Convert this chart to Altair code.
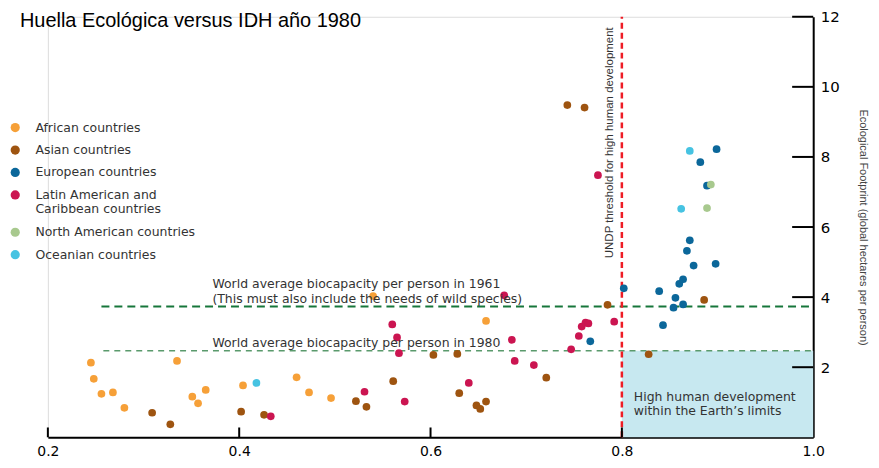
import altair as alt
import pandas as pd

regions = ["African countries", "Asian countries", "European countries",
           "Latin American and Caribbean countries", "North American countries",
           "Oceanian countries"]
colors = ["#F6A038", "#9E5410", "#0B679A", "#CB1551", "#A8C98E", "#46C3E2"]

african_hdi = [0.245, 0.248, 0.256, 0.268, 0.280, 0.335, 0.351, 0.357, 0.365, 0.404, 0.460, 0.473, 0.496, 0.540, 0.658]
african_ef = [2.13, 1.67, 1.24, 1.28, 0.84, 2.18, 1.16, 0.97, 1.35, 1.48, 1.71, 1.28, 1.12, 4.03, 3.32]

asian_hdi = [0.309, 0.328, 0.402, 0.426, 0.522, 0.533, 0.561, 0.603, 0.628, 0.630, 0.648, 0.652, 0.658, 0.721, 0.743, 0.761, 0.785, 0.828, 0.886]
asian_ef = [0.70, 0.37, 0.73, 0.64, 1.03, 0.87, 1.60, 2.35, 2.38, 1.26, 0.91, 0.81, 1.02, 1.70, 9.48, 9.41, 3.78, 2.37, 3.92]

european_hdi = [0.767, 0.802, 0.839, 0.843, 0.854, 0.856, 0.864, 0.860, 0.864, 0.868, 0.871, 0.875, 0.898, 0.889, 0.882, 0.899]
european_ef = [2.74, 4.25, 4.17, 3.20, 3.70, 3.98, 3.79, 4.38, 4.51, 5.32, 5.62, 4.90, 4.95, 7.18, 7.85, 8.22]

latin_hdi = [0.433, 0.531, 0.573, 0.560, 0.565, 0.567, 0.640, 0.677, 0.685, 0.688, 0.708, 0.747, 0.755, 0.758, 0.762, 0.765, 0.775, 0.792]
latin_ef = [0.60, 1.30, 1.02, 3.22, 2.85, 2.40, 1.55, 4.05, 2.78, 2.18, 2.06, 2.51, 2.89, 3.16, 3.27, 3.25, 7.48, 3.30]

north_hdi = [0.889, 0.893]
north_ef = [6.54, 7.21]

oceanian_hdi = [0.418, 0.862, 0.871]
oceanian_ef = [1.55, 6.52, 8.17]

biocap_1961 = 3.73
biocap_1980 = 2.47
undp_threshold = 0.8
x_ticks = [0.2, 0.4, 0.6, 0.8, 1.0]
y_ticks = [2, 4, 6, 8, 10, 12]

rows = []
for name, hx, ey in [(regions[0], african_hdi, african_ef), (regions[1], asian_hdi, asian_ef),
                     (regions[2], european_hdi, european_ef), (regions[3], latin_hdi, latin_ef),
                     (regions[4], north_hdi, north_ef), (regions[5], oceanian_hdi, oceanian_ef)]:
    for a, b in zip(hx, ey):
        rows.append({"hdi": a, "ef": b, "region": name})
points_df = pd.DataFrame(rows)

xscale = alt.Scale(domain=[0.2, 1.0], nice=False, zero=False)
yscale = alt.Scale(domain=[0, 12], nice=False, zero=True)
xaxis = alt.Axis(values=x_ticks, format=".1f", ticks=False, grid=False, domainColor="black",
                 domainWidth=2, labelFont="DejaVu Sans", labelFontSize=14, labelColor="black",
                 labelPadding=7, title=None, labelFlush=False)
yaxis = alt.Axis(orient="right", values=y_ticks, ticks=False, grid=False, domainColor="black",
                 domainWidth=2, labelFont="DejaVu Sans", labelFontSize=15, labelColor="black",
                 labelPadding=7, title="Ecological Footprint (global hectares per person)",
                 titleFont="Liberation Sans", titleFontSize=11, titleFontWeight="normal",
                 titleColor="#444444", titlePadding=18)

def X(field="hdi"):
    return alt.X(f"{field}:Q", scale=xscale, axis=xaxis)

def Y(field="ef"):
    return alt.Y(f"{field}:Q", scale=yscale, axis=yaxis)

rect = alt.Chart(pd.DataFrame({"hdi": [undp_threshold], "hdi2": [1.0], "ef": [0], "ef2": [biocap_1980]})).mark_rect(
    color="#C7E8F0").encode(x=X(), x2="hdi2:Q", y=Y(), y2="ef2:Q")

line61 = alt.Chart(pd.DataFrame({"hdi": [0.256], "hdi2": [1.0], "ef": [biocap_1961]})).mark_rule(
    color="#16763A", strokeWidth=2, strokeDash=[8, 5]).encode(x=X(), x2="hdi2:Q", y=Y())

line80 = alt.Chart(pd.DataFrame({"hdi": [0.258], "hdi2": [1.0], "ef": [biocap_1980]})).mark_rule(
    color="#5A9A6C", strokeWidth=1.5, strokeDash=[6, 5]).encode(x=X(), x2="hdi2:Q", y=Y())

red = alt.Chart(pd.DataFrame({"hdi": [undp_threshold], "ef": [0], "ef2": [12]})).mark_rule(
    color="#EE1C25", strokeWidth=2.5, strokeDash=[6, 4]).encode(x=X(), y=Y(), y2="ef2:Q")

xt = alt.Chart(pd.DataFrame({"hdi": x_ticks[:-1], "ef": [0] * 4, "ef2": [0.28] * 4})).mark_rule(
    color="black", strokeWidth=2).encode(x=X(), y=Y(), y2="ef2:Q")

yt = alt.Chart(pd.DataFrame({"ef": y_ticks, "hdi": [0.978] * 6, "hdi2": [1.0] * 6})).mark_rule(
    color="black", strokeWidth=2).encode(x=X(), x2="hdi2:Q", y=Y())

pts = alt.Chart(points_df).mark_circle(size=60, opacity=1).encode(
    x=X(), y=Y(),
    color=alt.Color("region:N", scale=alt.Scale(domain=regions, range=colors),
                    legend=alt.Legend(orient="none", legendX=-39, legendY=105, title=None,
                                      labelFont="DejaVu Sans", labelFontSize=12.5, labelColor="#333333",
                                      symbolType="circle", symbolSize=85, symbolStrokeWidth=0,
                                      rowPadding=9.5, labelOffset=14, padding=0, symbolOpacity=1,
                                      labelLimit=300,
                                      labelExpr="datum.label == 'Latin American and Caribbean countries' ? ['Latin American and', 'Caribbean countries'] : datum.label")))

ann_df = pd.DataFrame({
    "hdi": [0.372, 0.372, 0.372],
    "ef": [4.37, 3.96, 2.69],
    "text": ["World average biocapacity per person in 1961",
             "(This must also include the needs of wild species)",
             "World average biocapacity per person in 1980"],
})
ann = alt.Chart(ann_df).mark_text(font="DejaVu Sans", fontSize=12.5, color="#333333", align="left",
                                  baseline="middle").encode(x=X(), y=Y(), text="text:N")

box_df = pd.DataFrame({"hdi": [0.8125, 0.8125], "ef": [1.16, 0.76],
                       "text": ["High human development", "within the Earth\u2019s limits"]})
box = alt.Chart(box_df).mark_text(font="DejaVu Sans", fontSize=12.5, color="#333333", align="left",
                                  baseline="middle").encode(x=X(), y=Y(), text="text:N")

undp_df = pd.DataFrame({"hdi": [0.7875], "ef": [11.7], "text": ["UNDP threshold for high human development"]})
undp = alt.Chart(undp_df).mark_text(font="Liberation Sans", fontSize=11.5, color="#333333", align="right",
                                    baseline="middle", angle=270).encode(x=X(), y=Y(), text="text:N")

chart = alt.layer(rect, line61, line80, red, xt, yt, pts, ann, box, undp).properties(
    width=768, height=422,
    autosize=alt.AutoSizeParams(type="none"),
    padding={"left": 40, "top": 8, "right": 58, "bottom": 22},
    title=alt.TitleParams("Huella Ecológica versus IDH año 1980", anchor="start", frame="group",
                          font="Liberation Sans", fontSize=20, fontWeight="normal", color="black",
                          dx=-28, dy=37, offset=0, baseline="alphabetic"),
).configure_view(stroke=None).configure(background="white")

chart.save("out.html", embed_options={"renderer": "svg", "actions": False})
